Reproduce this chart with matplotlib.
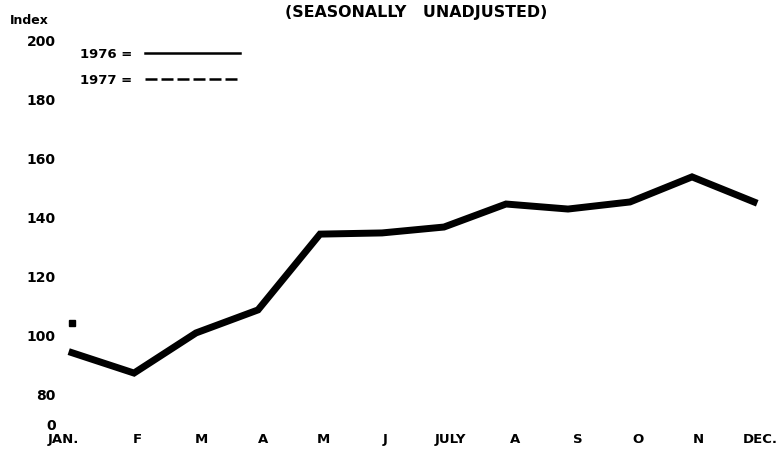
import matplotlib
matplotlib.use("Agg")
import matplotlib.pyplot as plt
from matplotlib.lines import Line2D

# ---- data ----
months = ["JAN.", "F", "M", "A", "M", "J", "JULY", "A", "S", "O", "N", "DEC."]
index_1976 = [94.0, 87.1, 100.7, 108.5, 134.2, 134.6, 136.6, 144.4, 142.7, 145.1, 153.6, 145.1]
index_1977 = [104.1]  # January only
ytick_values = [69.5, 80, 100, 120, 140, 160, 180, 200]
ytick_labels = ["0", "80", "100", "120", "140", "160", "180", "200"]
title = "(SEASONALLY   UNADJUSTED)"

# ---- layout ----
month_label_pos = [-0.14, 1.05, 2.08, 3.08, 4.05, 5.05, 6.1, 7.15, 8.15, 9.13, 10.1, 11.1]
W, H = 780, 450
plt.rcParams['font.family'] = ['DejaVu Sans']
plt.rcParams['font.weight'] = 'bold'

fig = plt.figure(figsize=(W / 100, H / 100), dpi=100)
ax = fig.add_axes([60 / W, 18 / H, 720 / W, 432 / H])

x = list(range(len(index_1976)))
ax.plot(x, index_1976, color="black", lw=5, solid_capstyle="projecting",
        solid_joinstyle="miter")
ax.plot(x[:len(index_1977)], index_1977, color="black", ls="--", marker="s",
        markersize=4.5, lw=1.8)

ax.set_xlim(-0.1935, 11.419)
ax.set_ylim(67.12, 213.56)

for s in ax.spines.values():
    s.set_visible(False)
ax.set_yticks(ytick_values)
ax.set_yticklabels(ytick_labels, fontsize=10, fontweight="bold")
ax.set_xticks(month_label_pos)
ax.set_xticklabels(months, fontsize=9.5, fontweight="bold")
ax.tick_params(axis="y", length=0, pad=3)
ax.tick_params(axis="x", length=0, pad=0.8)

fig.text(10 / W, 1 - 20 / H, "Index", fontsize=9, fontweight="bold",
         ha="left", va="center")
fig.text(416 / W, 1 - 13 / H, title, fontsize=11.4, fontweight="bold",
         ha="center", va="center")

handles = [Line2D([], [], color="black", lw=1.8),
           Line2D([], [], color="black", lw=1.8, ls=(0, (4.8, 1.6)))]
leg = fig.legend(handles, ["1976 =", "1977 ="], loc="upper left",
                 bbox_to_anchor=(80 / W, 1 - 48 / H), frameon=False,
                 markerfirst=False, handlelength=7.2, handletextpad=1.0,
                 labelspacing=0.95, borderpad=0, borderaxespad=0,
                 prop={"size": 9.5, "weight": "bold"})

fig.savefig("out.png", dpi=100)
